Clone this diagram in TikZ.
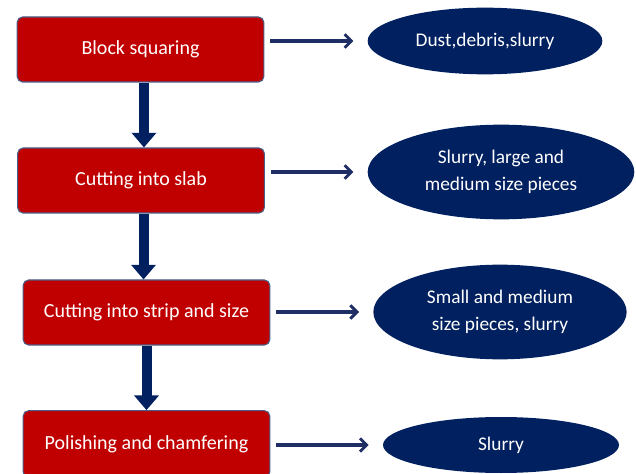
\documentclass[tikz,border=0pt]{standalone}
\usepackage{fontspec}
\setmainfont{Carlito}
\usetikzlibrary{arrows.meta,shapes.geometric}
\definecolor{boxred}{HTML}{C00000}
\definecolor{boxrim}{HTML}{4A5F8A}
\definecolor{navy}{HTML}{002060}
\definecolor{arrownavy}{HTML}{1F2F66}

\begin{document}
\begin{tikzpicture}[x=0.75pt,y=-0.75pt,
  stage/.style={draw=boxrim,line width=0.8pt,fill=boxred,rounded corners=4pt,
    minimum width=185pt,minimum height=48.75pt,text=white,font=\fontsize{15}{18}\selectfont},
  waste/.style={ellipse,fill=navy,inner sep=0pt,text=white,align=center,
    font=\fontsize{14.5}{20.5}\selectfont},
  downflow/.style={draw=navy,line width=7.5pt,-{Triangle[width=18pt,length=11pt]}},
  sideflow/.style={draw=arrownavy,line width=2.4pt,-{Straight Barb[length=5pt,width=10pt,line width=2.2pt]},
    shorten <=4.5pt,shorten >=10.5pt}]
\useasboundingbox (0,0) rectangle (636,474);
\clip (0,0) rectangle (636,474);

\draw (140.5,49.5) node[stage] (square) {Block squaring} ;
\draw (485,41) node[waste,minimum width=176pt,minimum height=50pt] (dust) {Dust,debris,slurry} ;
\draw[sideflow] (square.east |- dust) to (dust.west) ;

\draw (141,180.5) node[stage] (slab) {Cutting into slab} ;
\draw (501,172) node[waste,minimum width=200pt,minimum height=71pt] (large) {Slurry, large and\\medium size pieces} ;
\draw[downflow] ([xshift=2.6pt]square.south) to ([xshift=2.6pt]square.south |- slab.north) ;
\draw[sideflow] (slab.east |- large) to (large.west) ;

\draw (146.5,312.5) node[stage] (strip) {Cutting into strip and size} ;
\draw (500,312) node[waste,minimum width=190pt,minimum height=71pt] (small) {Small and medium\\size pieces, slurry} ;
\draw[downflow] ([xshift=1.9pt]slab.south) to ([xshift=1.9pt]slab.south |- strip.north) ;
\draw[sideflow] (strip.east |- small) to (small.west) ;

\draw (146.5,444) node[stage,minimum height=50pt] (polish) {Polishing and chamfering} ;
\draw (501,445) node[waste,minimum width=177pt,minimum height=42pt] (slurry) {Slurry} ;
\draw[downflow] (strip.south) to (strip.south |- polish.north) ;
\draw[sideflow] (polish.east |- slurry) to (slurry.west) ;

\end{tikzpicture}
\end{document}
